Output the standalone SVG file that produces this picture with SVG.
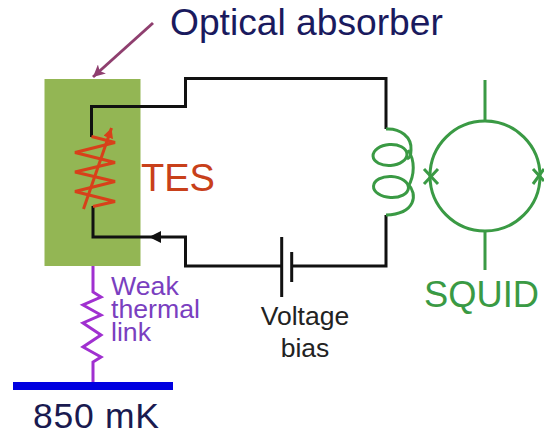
<svg xmlns="http://www.w3.org/2000/svg" width="544" height="435" viewBox="0 0 544 435">
<style>
text{font-family:"Liberation Sans",Arial,sans-serif}
.w{fill:none;stroke:#111;stroke-width:3;stroke-linejoin:miter}
.g{fill:none;stroke:#3a9a44;stroke-width:3}
</style>
<defs>
<marker id="pa" markerUnits="userSpaceOnUse" markerWidth="14" markerHeight="12" refX="12" refY="6" orient="auto"><path d="M0,0L12,6L0,12L3,6Z" fill="#8f3f6f"/></marker>
<marker id="oa" markerUnits="userSpaceOnUse" markerWidth="12" markerHeight="10" refX="10" refY="5" orient="auto"><path d="M0,0L10,5L0,10Z" fill="#d8401a"/></marker>
</defs>
<rect width="544" height="435" fill="#fff"/>
<g id="absorber"><rect x="44.5" y="79" width="96" height="187" fill="#93b654"/></g>
<g id="connectors">
<path d="M153,23L93,77" fill="none" stroke="#8f3f6f" stroke-width="3" marker-end="url(#pa)"/>
<path class="w" d="M91.5,137V106.5H185.5V78.5H386V129"/>
<path class="w" d="M93,206V237H185.5V266H282"/>
<path class="w" d="M292,266H386V215"/>
<path d="M149,237L161,231V243Z" fill="#111"/>
<path d="M93,266V292L101,297L83,305L101,315L83,323L101,335L83,347L101,357L93,362V383" fill="none" stroke="#a030d0" stroke-width="3"/>
</g>
<g id="tes">
<path d="M91.5,136.5L115,142.5L75,152.5L115,162.5L75,172L115,181.5L75,191.5L115,201.5L93,206.5" fill="none" stroke="#d8401a" stroke-width="3"/>
<path d="M83.5,209L111.5,128" fill="none" stroke="#d8401a" stroke-width="3" marker-end="url(#oa)"/>
<text x="141" y="191" font-size="38" fill="#c8401a">TES</text>
</g>
<g id="battery">
<path d="M281.7,237V297M291.7,252V282" fill="none" stroke="#111" stroke-width="3"/>
<text text-anchor="middle" x="305" y="325" font-size="26.5" fill="#222">Voltage</text>
<text text-anchor="middle" x="305" y="357" font-size="26.5" fill="#222">bias</text>
</g>
<g id="coil">
<path class="g" d="M386,129C400,128 412,137 411,150C411,157 409,158 407,159"/>
<ellipse class="g" cx="390" cy="155" rx="17" ry="10.5" transform="rotate(-4 390 155)"/>
<path class="g" d="M408,150C415,160 415,175 408,187"/>
<ellipse class="g" cx="391" cy="187" rx="17.5" ry="10.5" transform="rotate(3 391 187)"/>
<path class="g" d="M408,184C418,194 416,214 386,215"/>
</g>
<g id="squid">
<circle class="g" cx="485" cy="176" r="55"/>
<path class="g" d="M485,80V120M485,232V270M424,169L438,184M438,169L424,184M533,169L544,181M544,169L533,184"/>
<text x="424" y="307" font-size="36.3" fill="#3a9a44">SQUID</text>
</g>
<g id="optical-label"><text x="170" y="35" font-size="37.2" fill="#1a1a5e">Optical absorber</text></g>
<g id="thermal-link-label" fill="#7a3fc0" font-size="26.7">
<text x="111" y="295">Weak</text><text x="111" y="318">thermal</text><text x="111" y="341">link</text>
</g>
<g id="bath">
<rect x="13" y="382" width="160" height="8" fill="#0000e0"/>
<text x="33" y="427.5" font-size="35.5" letter-spacing="0.7" fill="#1a1a50">850 mK</text>
</g>
</svg>
